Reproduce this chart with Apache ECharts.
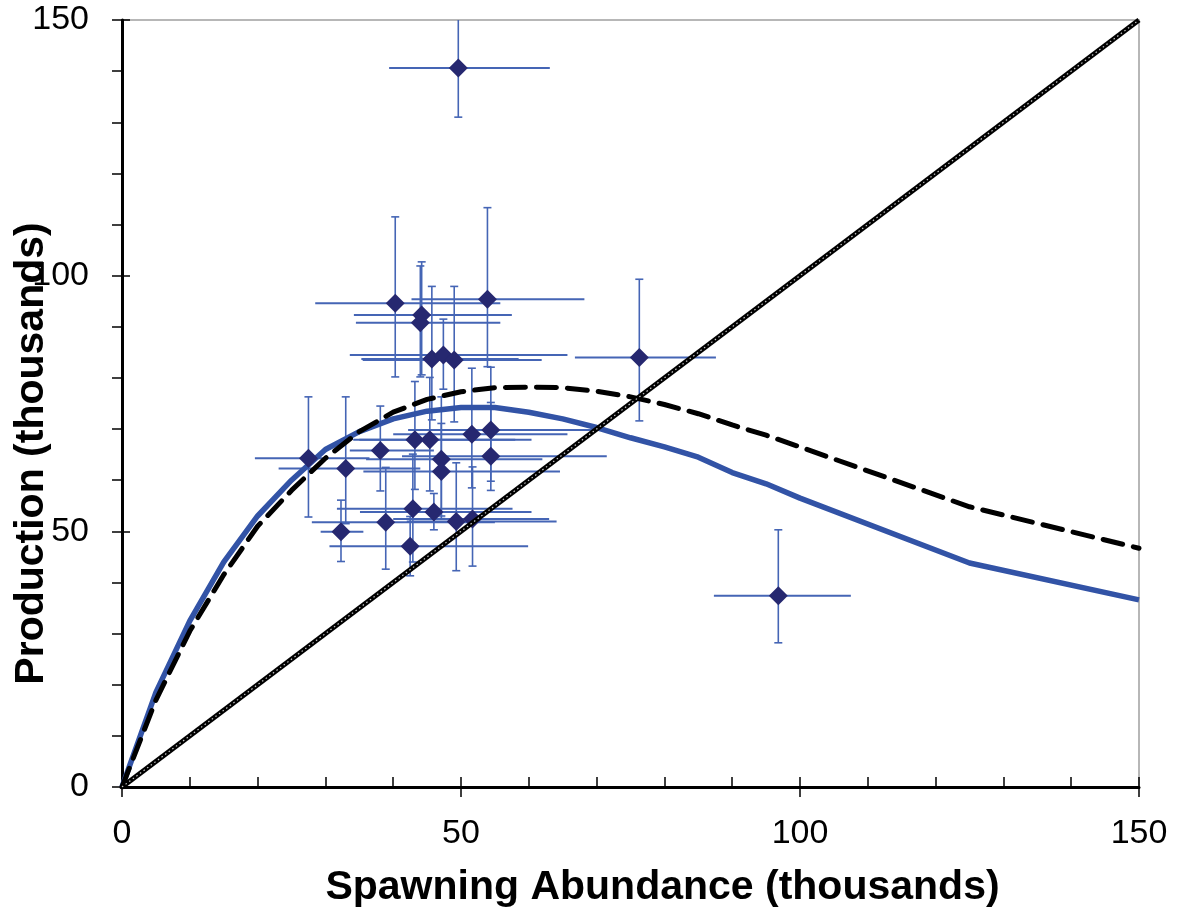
<!DOCTYPE html>
<html><head><meta charset="utf-8">
<script src="https://cdn.jsdelivr.net/npm/echarts@6/dist/echarts.min.js"></script>
<style>html,body{margin:0;padding:0;background:#fff}#c{width:1181px;height:919px}</style>
</head><body><div id="c"></div>
<script>
// Observed stock-recruit points (thousands)
const spawn   = [40.3, 53.9, 44.2, 44.0, 45.7, 47.4, 49.0, 76.3, 27.5, 33.0, 38.1, 43.2, 45.4, 51.6, 54.4, 54.4, 47.1, 47.1, 42.9, 46.0, 38.9, 32.3, 49.3, 51.7, 42.5, 49.6, 96.8];
const prod    = [94.6, 95.4, 92.3, 90.8, 83.7, 84.5, 83.5, 84.0, 64.3, 62.3, 65.8, 67.9, 67.9, 69.0, 69.8, 64.7, 64.1, 61.7, 54.4, 53.8, 51.8, 49.9, 51.9, 52.4, 47.1, 140.6, 37.4];
const spawnLo = [28.5, 42.7, 34.2, 34.5, 35.3, 33.6, 35.5, 66.8, 19.6, 23.1, 33.6, 34.1, 35.0, 40.0, 42.2, 41.3, 36.0, 35.6, 31.7, 35.1, 28.0, 29.3, 42.0, 40.0, 30.6, 39.4, 87.3];
const spawnHi = [55.8, 68.2, 57.5, 55.8, 58.5, 65.7, 61.9, 87.6, 36.5, 44.0, 46.0, 60.4, 58.0, 65.7, 70.9, 71.5, 62.0, 64.6, 57.6, 60.4, 55.0, 35.6, 64.1, 63.0, 59.9, 63.1, 107.5];
const prodLo  = [80.2, 82.2, 80.6, 80.2, 71.8, 77.8, 71.4, 71.6, 52.8, 51.5, 57.9, 58.2, 57.9, 58.5, 58.0, 59.8, 53.0, 52.5, 44.0, 50.3, 42.6, 44.1, 42.3, 43.2, 41.3, 131.0, 28.2];
const prodHi  = [111.5, 113.3, 102.7, 101.9, 97.9, 91.5, 97.9, 99.3, 76.3, 76.3, 74.5, 79.3, 80.1, 81.9, 82.1, 75.2, 71.1, 76.3, 65.1, 57.4, 62.5, 56.1, 63.4, 62.6, 52.9, 152.0, 50.3];

// Fitted curves
const curveX     = [0, 5, 10, 15, 20, 25, 30, 35, 40, 45, 50, 55, 60, 65, 70, 75, 80, 85, 90, 95, 100, 125, 150];
const curveSolid = [0, 18.5, 32.5, 44, 53, 60, 66, 69.5, 72, 73.5, 74.2, 74.2, 73.3, 72, 70.3, 68.3, 66.5, 64.5, 61.5, 59.3, 56.5, 43.8, 36.6];
const curveDash  = [0, 17, 30.5, 41.5, 51, 58, 64.3, 69.5, 73.3, 75.8, 77.3, 78.1, 78.2, 78.1, 77.4, 76.3, 74.8, 73, 70.8, 68.8, 66.5, 54.8, 46.7];

// Replacement line
const replX = [0, 150];
const replY = [0, 150];

const labelTicks = [0, 50, 100, 150];

const FONT = "'Liberation Sans', Arial, sans-serif";
const pts = spawn.map((v, i) => [v, prod[i]]);
const errData = spawn.map((v, i) => [v, prod[i], spawnLo[i], spawnHi[i], prodLo[i], prodHi[i]]);
const solid = curveX.map((v, i) => [v, curveSolid[i]]);
const dash = curveX.map((v, i) => [v, curveDash[i]]);
const repl = replX.map((v, i) => [v, replY[i]]);

const chart = echarts.init(document.getElementById('c'), null, {renderer: 'canvas'});
const errColor = '#4565b5';
const lbl = v => labelTicks.indexOf(v) >= 0 ? String(v) : '';

chart.setOption({
  animation: false,
  backgroundColor: '#fff',
  grid: {left: 122, right: 42, top: 20, bottom: 132, outerBoundsMode: 'none', containLabel: false,
         show: true, borderColor: '#a0a0a0', borderWidth: 1.5, backgroundColor: 'transparent'},
  xAxis: [{
    type: 'value', min: 0, max: 150, interval: 10, position: 'bottom',
    axisLine: {show: true, onZero: false, lineStyle: {color: '#000', width: 3}},
    axisTick: {show: true, inside: true, length: 10, lineStyle: {color: '#000', width: 1.5}},
    axisLabel: {formatter: lbl, fontSize: 34, color: '#000', fontFamily: FONT, margin: 30, showMinLabel: true, showMaxLabel: true},
    splitLine: {show: false},
    name: 'Spawning Abundance (thousands)', nameLocation: 'middle', nameGap: 80,
    nameTextStyle: {fontSize: 41, fontWeight: 'bold', color: '#000', fontFamily: FONT, padding: [0, 0, 0, 64]}
  }, {
    type: 'value', min: 0, max: 150, interval: 50, position: 'bottom',
    axisLine: {show: false},
    axisTick: {show: true, inside: false, length: 10, lineStyle: {color: '#000', width: 1.5}},
    axisLabel: {show: false}, splitLine: {show: false}
  }],
  yAxis: [{
    type: 'value', min: 0, max: 150, interval: 10, position: 'left',
    axisLine: {show: true, onZero: false, lineStyle: {color: '#000', width: 3}},
    axisTick: {show: true, inside: false, length: 10, lineStyle: {color: '#000', width: 1.5}},
    axisLabel: {formatter: lbl, fontSize: 34, color: '#000', fontFamily: FONT, margin: 33, showMinLabel: true, showMaxLabel: true},
    splitLine: {show: false},
    name: 'Production (thousands)', nameLocation: 'middle', nameGap: 70, nameMoveOverlap: false,
    nameTextStyle: {fontSize: 41, fontWeight: 'bold', color: '#000', fontFamily: FONT, padding: [0, 100, 0, 0]}
  }, {
    type: 'value', min: 0, max: 150, interval: 50, position: 'left',
    axisLine: {show: false},
    axisTick: {show: true, inside: true, length: 8, lineStyle: {color: '#000', width: 1.5}},
    axisLabel: {show: false}, splitLine: {show: false}
  }],
  series: [
    {
      type: 'custom', name: 'err', data: errData, z: 2, clip: true,
      encode: {x: 0, y: 1},
      renderItem: function (params, api) {
        const x = api.value(0), y = api.value(1);
        const xl = api.coord([api.value(2), y]);
        const xh = api.coord([api.value(3), y]);
        const yl = api.coord([x, api.value(4)]);
        const yh = api.coord([x, api.value(5)]);
        const cap = 4;
        const st = {stroke: errColor, lineWidth: 2};
        const sv = {stroke: errColor, lineWidth: 1.6};
        return {type: 'group', children: [
          {type: 'line', shape: {x1: xl[0], y1: xl[1], x2: xh[0], y2: xh[1]}, style: st},
          {type: 'line', shape: {x1: yl[0], y1: yl[1], x2: yh[0], y2: yh[1]}, style: sv},
          {type: 'line', shape: {x1: yl[0] - cap, y1: yl[1], x2: yl[0] + cap, y2: yl[1]}, style: sv},
          {type: 'line', shape: {x1: yh[0] - cap, y1: yh[1], x2: yh[0] + cap, y2: yh[1]}, style: sv}
        ]};
      }
    },
    {
      type: 'line', name: 'solid', data: solid, z: 3, symbol: 'none', smooth: false,
      lineStyle: {color: '#3253a6', width: 5.5}
    },
    {
      type: 'line', name: 'dash', data: dash, z: 4, symbol: 'none', smooth: false,
      lineStyle: {color: '#000', width: 5, type: [20, 11], cap: 'round'}
    },
    {
      type: 'scatter', name: 'obs', data: pts, z: 5, symbol: 'diamond', symbolSize: [19, 19],
      itemStyle: {color: '#262870', opacity: 1}
    },
    {
      type: 'line', name: 'repl', data: repl, z: 6, symbol: 'none',
      lineStyle: {color: '#000', width: 5}
    },
    {
      type: 'line', name: 'repl2', data: repl, z: 7, symbol: 'none',
      lineStyle: {color: '#c8c8c8', width: 1.2, type: [1.5, 3]}
    }
  ]
});
</script></body></html>
